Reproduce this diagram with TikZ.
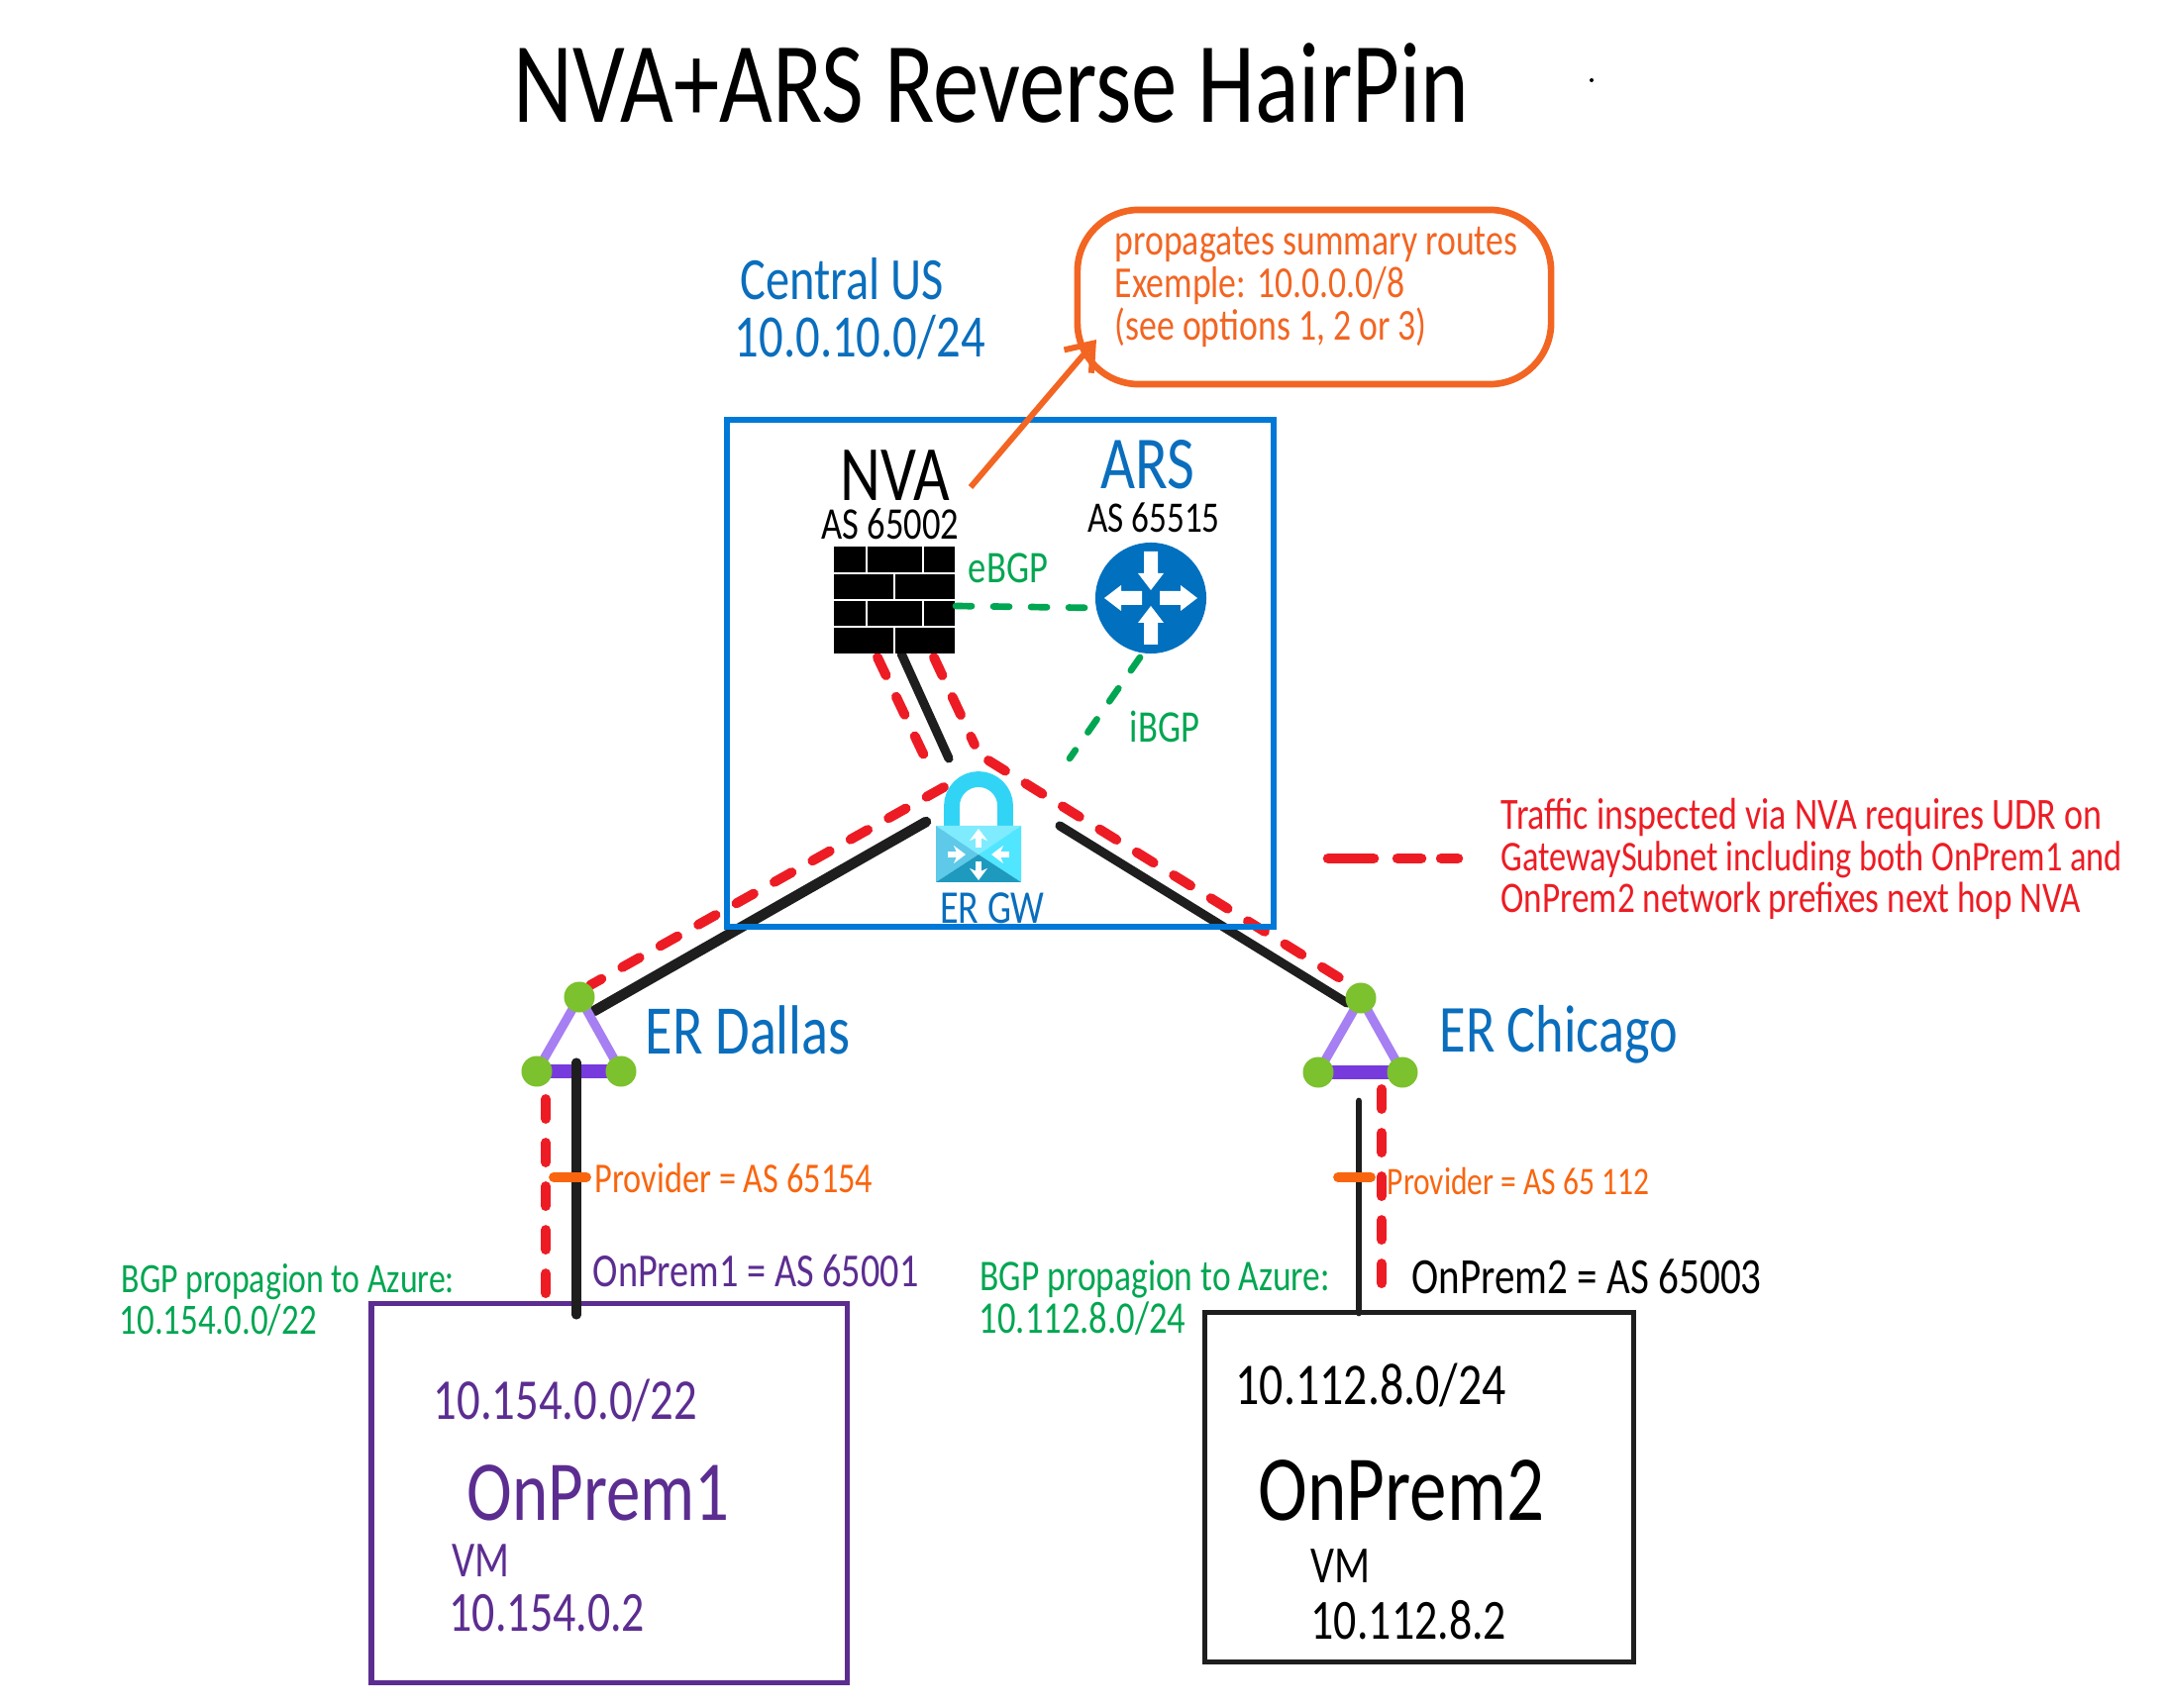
\documentclass[tikz,border=0pt]{standalone}
\usepackage{fontspec}
\setmainfont[FakeStretch=0.8]{Carlito}
\usetikzlibrary{arrows.meta}
\definecolor{azureblue}{HTML}{0078D7}
\definecolor{textblue}{HTML}{0A6EBD}
\definecolor{calloutorange}{HTML}{F26522}
\definecolor{tickorange}{HTML}{F9650E}
\definecolor{bgpgreen}{HTML}{00A651}
\definecolor{trafficred}{HTML}{ED1C24}
\definecolor{lineblack}{HTML}{1E1E1E}
\definecolor{premviolet}{HTML}{5C2D91}
\definecolor{erlight}{HTML}{A67FF2}
\definecolor{erdark}{HTML}{773ADC}
\definecolor{ergreen}{HTML}{7CC12E}
\definecolor{routerblue}{HTML}{0070BF}
\definecolor{lockcyan}{HTML}{32D4F5}
\definecolor{locktop}{HTML}{7FEBFF}
\definecolor{lockleft}{HTML}{5EC9E8}
\definecolor{lockright}{HTML}{50E6FF}
\definecolor{lockbottom}{HTML}{1E9ABF}
\tikzset{
  lbl/.style={inner sep=0pt,align=left},
  note/.style={lbl,anchor=west,font=\fontsize{12.6}{12.6}\selectfont},
  reddash/.style={trafficred,line width=2.8pt,line cap=round,dash pattern=on 0.2cm off 0.24cm},
  blackline/.style={lineblack,line width=2.6pt,line cap=round},
  greendash/.style={bgpgreen,line width=1.9pt,line cap=round,dash pattern=on 0.16cm off 0.22cm},
  tick/.style={tickorange,line width=2.8pt,line cap=round},
  ernode/.style={circle,fill=ergreen,minimum size=0.31cm,inner sep=0pt},
  erleg/.style={erlight,line width=2.6pt},
  erbase/.style={erdark,line width=4pt},
}
\newcommand{\ertriangle}[3]{% name prefix, x, y of the top
  \coordinate (#1a) at (#2,#3);
  \coordinate (#1b) at (#2-43,#3+75);
  \coordinate (#1c) at (#2+42,#3+75);
  \draw[erleg] (#1a) -- (#1b);
  \draw[erleg] (#1a) -- (#1c);
  \draw[erbase] (#1b) -- (#1c);
  \node[ernode] (#1t) at (#1a) {};
  \node[ernode] (#1l) at (#1b) {};
  \node[ernode] (#1r) at (#1c) {};
}
\begin{document}
\begin{tikzpicture}[x=0.01cm,y=-0.01cm]
  \useasboundingbox (0,0) rectangle (2187,1725);

  % title
  \node[lbl,font=\fontsize{33}{33}\selectfont] (title) at (1001,84) {NVA+ARS Reverse HairPin};
  \fill (1607,81) circle (0.02cm);

  % region
  \node[note,textblue,font=\fontsize{17.2}{17.2}\selectfont] (region) at (747,282) {Central US};
  \node[note,textblue,font=\fontsize{17.3}{17.3}\selectfont] (prefix) at (741,341) {10.0.10.0/24};

  % callout
  \node[draw=calloutorange,line width=1.9pt,rounded corners=0.62cm,minimum width=4.78cm,minimum height=1.76cm] (callout) at (1327,300) {};
  \node[note,calloutorange,font=\fontsize{12.7}{12.7}\selectfont] (calloutA) at (1125,247) {propagates summary routes};
  \node[note,calloutorange,font=\fontsize{12.7}{12.7}\selectfont] (calloutB) at (1125,289) {Exemple: 10.0.0.0/8};
  \node[note,calloutorange,font=\fontsize{12.7}{12.7}\selectfont] (calloutC) at (1125,331) {(see options 1, 2 or 3)};

  % end points
  \coordinate (nvaArrow) at (980,492);
  \coordinate (calloutTip) at (1107,343);
  \coordinate (fwE) at (965,612);
  \coordinate (arsW) at (1110,614);
  \coordinate (arsS) at (1151,664);
  \coordinate (gwNE) at (1080,766);
  \coordinate (redAa) at (886,664);
  \coordinate (redAb) at (941,780);
  \coordinate (redBa) at (943,664);
  \coordinate (redBb) at (984,752);
  \coordinate (blkNa) at (910,660);
  \coordinate (blkNb) at (958,766);
  \coordinate (redCa) at (953,795);
  \coordinate (redCb) at (596,995);
  \coordinate (redDa) at (998,768);
  \coordinate (redDb) at (1353,988);
  \coordinate (blkWa) at (935,830);
  \coordinate (blkWb) at (600,1021);
  \coordinate (blkEa) at (1070,834);
  \coordinate (blkEb) at (1360,1013);
  \coordinate (redLa) at (551,1110);
  \coordinate (redLb) at (551,1321);
  \coordinate (blkLa) at (582,1073);
  \coordinate (blkLb) at (582,1328);
  \coordinate (tickLa) at (559,1189);
  \coordinate (tickLb) at (592,1189);
  \coordinate (redRa) at (1395,1100);
  \coordinate (redRb) at (1395,1298);
  \coordinate (blkRa) at (1372,1112);
  \coordinate (blkRb) at (1372,1326);
  \coordinate (tickRa) at (1351,1189);
  \coordinate (tickRb) at (1384,1189);

  % traffic lines
  \draw[reddash] (redAa) -- (redAb);
  \draw[reddash] (redBa) -- (redBb);
  \draw[reddash] (redCa) -- (redCb);
  \draw[reddash] (redDa) -- (redDb);
  \draw[blackline] (blkNa) -- (blkNb);
  \draw[blackline,line width=3pt] (blkWa) -- (blkWb);
  \draw[blackline] (blkEa) -- (blkEb);

  % region box
  \node[draw=azureblue,line width=1.7pt,minimum width=5.51cm,minimum height=5.11cm] (regionbox) at (1010,680) {};

  % firewall
  \node[fill=black,minimum width=1.22cm,minimum height=1.08cm,inner sep=0pt] (fw) at (903,606) {};
  \foreach \ya in {579,606,633} \draw[white,line width=0.6pt] (842,\ya) -- (964,\ya);
  \foreach \xa in {875,932} {
    \draw[white,line width=0.6pt] (\xa,552) -- (\xa,579);
    \draw[white,line width=0.6pt] (\xa,606) -- (\xa,633);
  }
  \foreach \ya in {579,633} \draw[white,line width=0.6pt] (903,\ya) -- (903,\ya+27);

  % router
  \node[circle,fill=routerblue,minimum size=1.12cm,inner sep=0pt] (ars) at (1162,604) {};
  \foreach \ang in {0,180}
    \fill[white,shift={(1162,604)},rotate=\ang] (9,-7) -- (30,-7) -- (30,-13) -- (47,0) -- (30,13) -- (30,7) -- (9,7) -- cycle;
  \foreach \ang in {90,270}
    \fill[white,shift={(1162,604)},rotate=\ang] (47,-7) -- (25,-7) -- (25,-13) -- (8,0) -- (25,13) -- (25,7) -- (47,7) -- cycle;

  % gateway lock
  \draw[lockcyan,line width=4.5pt] (961,840) -- (961,814) arc[start angle=180,end angle=0,radius=0.27cm] -- (1015,840);
  \fill[locktop] (945,834) -- (1031,834) -- (988,863) -- cycle;
  \fill[lockleft] (945,834) -- (988,863) -- (945,891) -- cycle;
  \fill[lockright] (1031,834) -- (988,863) -- (1031,891) -- cycle;
  \fill[lockbottom] (945,891) -- (988,863) -- (1031,891) -- cycle;
  \node[inner sep=0pt,minimum width=0.86cm,minimum height=0.57cm] (gw) at (988,863) {};
  \foreach \ang in {0,180}
    \draw[white,line width=1.5pt,shift={(988,863)},rotate=\ang,-{Stealth[length=1.2mm,width=1.8mm]}] (0,-7) -- (0,-26);
  \foreach \ang in {0,180}
    \draw[white,line width=1.5pt,shift={(988,863)},rotate=\ang,-{Stealth[length=1.2mm,width=1.8mm]}] (-31,0) -- (-13,0);

  % bgp sessions
  \draw[greendash] (fwE) -- (arsW);
  \draw[greendash] (arsS) -- (gwNE);

  % orange arrow
  \draw[calloutorange,line width=1.7pt,-{Straight Barb[length=2.4mm,width=3.6mm]}] (nvaArrow) -- (calloutTip);

  % ExpressRoute triangles
  \ertriangle{dal}{585}{1007}
  \ertriangle{chi}{1374}{1008}

  % circuits
  \draw[reddash] (redLa) -- (redLb);
  \draw[reddash] (redRa) -- (redRb);

  % on-premises boxes
  \node[draw=premviolet,line width=1.5pt,minimum width=4.8cm,minimum height=3.83cm] (prem1) at (615,1508) {};
  \node[draw=lineblack,line width=1.5pt,minimum width=4.33cm,minimum height=3.53cm] (prem2) at (1433,1502) {};

  \draw[blackline] (blkLa) -- (blkLb);
  \draw[blackline,line width=1.9pt] (blkRa) -- (blkRb);
  \draw[tick] (tickLa) -- (tickLb);
  \draw[tick] (tickRa) -- (tickRb);

  % labels in the region
  \node[lbl,font=\fontsize{22.5}{22.5}\selectfont] (nvalbl) at (904,480) {NVA};
  \node[lbl,font=\fontsize{13}{13}\selectfont] (nvaas) at (899,529) {AS 65002};
  \node[lbl,textblue,font=\fontsize{21.5}{21.5}\selectfont] (arslbl) at (1159,469) {ARS};
  \node[lbl,font=\fontsize{12.5}{12.5}\selectfont] (arsas) at (1165,523) {AS 65515};
  \node[lbl,bgpgreen,font=\fontsize{13}{13}\selectfont] (ebgp) at (1018,574) {eBGP};
  \node[lbl,bgpgreen,font=\fontsize{13}{13}\selectfont] (ibgp) at (1176,734) {iBGP};
  \node[lbl,textblue,font=\fontsize{13.5}{13.5}\selectfont] (gwlbl) at (1002,917) {ER GW};

  % circuit labels
  \node[note,textblue,font=\fontsize{20}{20}\selectfont] (dallas) at (651,1040) {ER Dallas};
  \node[note,textblue,font=\fontsize{19.3}{19.3}\selectfont] (chicago) at (1453,1045) {ER Chicago};
  \node[note,tickorange,font=\fontsize{12.2}{12.2}\selectfont] (provL) at (600,1190) {Provider = AS 65154};
  \node[note,tickorange,font=\fontsize{11.2}{11.2}\selectfont] (provR) at (1400,1193) {Provider = AS 65 112};
  \node[note,premviolet,font=\fontsize{13.6}{13.6}\selectfont] (asL) at (598,1284) {OnPrem1 = AS 65001};
  \node[note,font=\fontsize{14.6}{14.6}\selectfont] (asR) at (1425,1289) {OnPrem2 = AS 65003};
  \node[note,bgpgreen,font=\fontsize{12}{12}\selectfont] (bgpLa) at (122,1295) {BGP propagion to Azure:};
  \node[note,bgpgreen,font=\fontsize{12.4}{12.4}\selectfont] (bgpLb) at (120,1333) {10.154.0.0/22};
  \node[note,bgpgreen,font=\fontsize{12.6}{12.6}\selectfont] (bgpRa) at (989,1292) {BGP propagion to Azure:};
  \node[note,bgpgreen,font=\fontsize{13}{13}\selectfont] (bgpRb) at (988,1332) {10.112.8.0/24};

  % inside the boxes
  \node[note,premviolet,font=\fontsize{16.6}{16.6}\selectfont] (p1prefix) at (437,1414) {10.154.0.0/22};
  \node[lbl,premviolet,font=\fontsize{24.5}{24.5}\selectfont] (p1name) at (604,1508) {OnPrem1};
  \node[note,premviolet,font=\fontsize{14.5}{14.5}\selectfont] (p1vm) at (456,1576) {VM};
  \node[note,premviolet,font=\fontsize{16.3}{16.3}\selectfont] (p1ip) at (453,1629) {10.154.0.2};
  \node[note,font=\fontsize{17}{17}\selectfont] (p2prefix) at (1247,1399) {10.112.8.0/24};
  \node[lbl,font=\fontsize{26.7}{26.7}\selectfont] (p2name) at (1415,1505) {OnPrem2};
  \node[note,font=\fontsize{15}{15}\selectfont] (p2vm) at (1323,1582) {VM};
  \node[note,font=\fontsize{16.3}{16.3}\selectfont] (p2ip) at (1323,1636) {10.112.8.2};

  % legend
  \coordinate (legendA) at (1341,867);
  \coordinate (legendB) at (1472,867);
  \draw[trafficred,line width=3pt,line cap=round,dash pattern=on 0.46cm off 0.24cm on 0.24cm off 0.2cm] (legendA) -- (legendB);
  \node[note,trafficred,font=\fontsize{12.8}{12.8}\selectfont] (legA) at (1515,826) {Traffic inspected via NVA requires UDR on};
  \node[note,trafficred,font=\fontsize{12.2}{12.2}\selectfont] (legB) at (1515,868) {GatewaySubnet including both OnPrem1 and};
  \node[note,trafficred,font=\fontsize{12.5}{12.5}\selectfont] (legC) at (1515,910) {OnPrem2 network prefixes next hop NVA};
\end{tikzpicture}
\end{document}
